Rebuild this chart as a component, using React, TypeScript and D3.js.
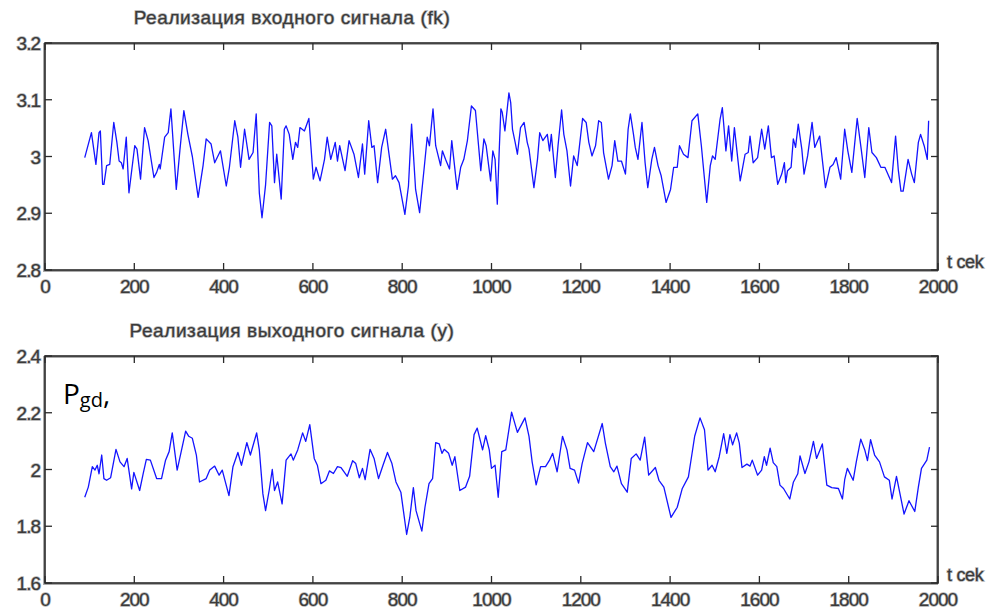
import React from "react";
import * as d3 from "d3";

// ---- data ----
const inT = [89,104,114,121,124,129,132,138,145,154,161,166,171,175,182,188,201,206,214,223,231,244,250,256,258,268,276,282,294,302,311,320,330,343,354,361,372,380,393,406,413,425,432,438,447,457,466,473,480,486,494,503,508,514,519,529,536,540,547,555,561,566,571,581,591,601,607,616,626,632,640,650,655,660,672,681,692,702,711,716,725,732,737,745,754,763,778,785,793,806,814,821,830,839,849,856,861,869,875,886,890,897,906,911,923,931,938,946,955,964,976,983,988,998,1003,1008,1013,1017,1021,1024,1030,1039,1043,1047,1053,1058,1065,1073,1080,1084,1095,1103,1108,1115,1125,1130,1134,1143,1149,1157,1162,1169,1177,1184,1192,1204,1212,1218,1225,1233,1240,1246,1251,1262,1270,1276,1283,1291,1300,1306,1311,1318,1322,1328,1337,1344,1350,1359,1365,1373,1380,1391,1401,1408,1416,1421,1430,1440,1449,1462,1470,1482,1490,1495,1501,1512,1517,1525,1531,1538,1544,1557,1568,1575,1579,1586,1596,1605,1612,1620,1627,1633,1641,1650,1656,1659,1663,1671,1676,1681,1687,1695,1700,1708,1718,1724,1735,1748,1758,1765,1772,1782,1791,1798,1807,1819,1828,1836,1845,1852,1862,1872,1881,1896,1905,1911,1917,1922,1933,1941,1947,1956,1961,1969,1976,1979];
const inV = [2.998,3.042,2.986,3.042,3.045,2.951,2.951,2.984,2.986,3.060,3.025,2.992,2.989,2.978,3.034,2.936,3.019,3.013,2.960,3.051,3.028,2.963,2.972,2.986,2.978,3.034,3.042,3.084,2.942,3.010,3.081,3.039,3.000,2.928,2.984,3.031,3.022,2.989,3.010,2.948,2.981,3.063,3.034,2.981,3.048,2.995,3.007,3.075,2.936,2.892,2.950,3.060,3.054,2.954,3.004,2.925,3.048,3.054,3.039,2.995,3.025,3.016,3.051,3.045,3.067,2.960,2.981,2.957,2.995,3.034,2.995,3.025,2.992,3.019,2.975,3.028,3.004,2.963,3.022,2.969,3.063,3.016,3.019,2.954,3.016,3.048,2.960,2.966,2.954,2.898,2.948,3.057,2.942,2.901,2.978,3.034,3.019,3.084,3.019,2.984,3.010,2.995,2.978,3.028,2.942,2.981,2.995,3.028,3.089,3.081,2.975,3.031,3.019,2.957,3.010,2.995,2.916,3.004,3.084,3.078,3.045,3.112,3.095,3.048,3.025,3.004,3.051,3.060,3.025,3.013,2.945,2.995,3.042,3.028,3.039,3.010,3.039,2.963,3.019,3.082,3.039,3.010,2.948,3.001,2.984,3.067,3.060,3.025,3.001,3.019,3.063,3.060,3.007,2.960,2.984,3.028,2.992,2.992,2.969,3.048,3.075,3.039,3.016,2.995,3.060,2.989,2.945,2.995,3.016,2.984,2.966,2.919,2.942,2.981,2.981,3.019,3.004,2.998,3.063,3.075,3.019,2.919,2.984,3.001,2.995,3.066,3.086,3.010,3.054,2.992,3.051,2.957,3.004,3.007,3.036,2.989,2.998,3.048,3.013,3.054,2.998,3.001,2.951,2.969,2.989,2.954,2.975,2.981,3.031,3.016,3.057,3.013,2.969,3.001,3.060,3.016,3.036,2.945,2.981,2.986,2.998,2.960,3.048,3.010,2.972,3.067,3.013,2.963,3.051,3.007,2.998,2.981,2.981,2.954,3.036,2.977,2.939,2.939,2.995,2.969,2.954,3.025,3.039,3.019,2.995,3.063];

const outT = [89,97,106,112,117,121,127,132,138,147,159,168,177,184,194,199,212,220,227,236,250,261,270,278,285,296,315,322,330,339,346,361,369,380,390,397,412,421,432,440,452,460,474,480,488,494,502,509,514,521,531,540,551,556,566,577,584,593,603,610,618,629,637,646,655,663,677,689,696,704,711,717,728,737,747,757,767,777,786,797,810,817,825,831,844,851,860,868,875,883,889,894,904,912,918,929,942,951,961,968,980,987,995,1000,1008,1015,1023,1032,1045,1058,1075,1084,1091,1100,1110,1121,1130,1137,1147,1159,1169,1176,1186,1195,1203,1215,1229,1248,1255,1266,1274,1281,1291,1304,1313,1324,1333,1343,1352,1367,1375,1386,1402,1416,1427,1441,1448,1455,1467,1477,1485,1494,1501,1510,1520,1527,1534,1540,1549,1555,1561,1572,1579,1584,1596,1605,1611,1616,1624,1631,1639,1646,1654,1668,1676,1686,1691,1702,1711,1721,1728,1741,1751,1762,1777,1786,1791,1797,1810,1817,1827,1836,1842,1849,1858,1869,1880,1891,1897,1907,1924,1935,1948,1956,1963,1975,1981];
const outV = [1.902,1.938,2.010,1.998,2.015,1.985,2.051,1.968,1.962,1.971,2.071,2.027,2.010,2.039,1.932,1.990,1.926,1.986,2.036,2.033,1.968,1.968,2.033,2.063,2.129,1.998,2.135,2.117,2.110,2.051,1.956,1.968,1.998,2.012,1.980,1.998,1.908,2.010,2.060,2.015,2.095,2.051,2.129,2.069,1.914,1.855,1.926,2.000,1.926,1.956,1.879,2.033,2.055,2.033,2.069,2.129,2.099,2.158,2.039,2.015,1.950,1.962,1.995,1.986,2.010,2.007,1.976,2.031,2.021,1.971,2.004,1.964,2.071,2.039,1.968,2.015,2.060,2.021,1.956,1.920,1.771,1.831,1.936,1.855,1.783,1.867,1.950,1.968,2.095,2.090,2.057,2.071,2.057,2.015,2.045,1.926,1.938,1.976,2.123,2.146,2.069,2.119,2.069,2.004,2.015,1.902,2.063,2.069,2.202,2.131,2.182,2.117,2.027,1.946,2.010,2.010,2.033,2.057,1.992,2.117,2.069,2.004,1.998,1.952,2.021,2.095,2.063,2.162,2.093,2.010,1.992,2.012,1.950,1.920,2.039,2.055,2.033,2.114,1.980,2.007,1.962,1.938,1.831,1.867,1.932,1.974,2.045,2.117,2.182,2.140,1.998,2.015,1.992,2.045,2.126,2.057,2.123,2.087,2.129,2.093,2.007,2.019,2.012,2.033,1.980,1.998,2.045,2.015,2.075,2.024,2.010,1.945,1.933,1.896,1.955,1.985,2.048,1.986,2.027,2.099,2.039,2.090,1.945,1.936,1.933,1.896,1.964,2.004,1.962,2.027,2.107,2.069,2.031,2.105,2.051,2.027,1.974,1.962,1.896,1.976,1.843,1.890,1.852,1.938,2.004,2.033,2.079];

const xTicks = [0, 200, 400, 600, 800, 1000, 1200, 1400, 1600, 1800, 2000];
const topYTicks = [2.8, 2.9, 3, 3.1, 3.2];
const botYTicks = [1.6, 1.8, 2, 2.2, 2.4];
const topTitle = "Реализация входного сигнала (fk)";
const botTitle = "Реализация выходного сигнала (y)";
const xUnit = "t cek";

const LEFT = 45;
const RIGHT = 938;
const labelFont = "'Liberation Sans', Arial, sans-serif";

type PanelProps = {
  top: number;
  bottom: number;
  domain: [number, number];
  yTicks: number[];
  ts: number[];
  vs: number[];
  title: string;
  fmt: (v: number) => string;
};

function Panel({ top, bottom, domain, yTicks, ts, vs, title, fmt }: PanelProps) {
  const x = d3.scaleLinear().domain([0, 2000]).range([LEFT, RIGHT]);
  const y = d3.scaleLinear().domain(domain).range([bottom, top]);
  const pts: [number, number][] = ts.map((t, i) => [t, vs[i]]);
  const line = d3
    .line<[number, number]>()
    .x((d) => x(d[0]))
    .y((d) => y(d[1]));
  const tl = 7;
  const textStyle = {
    fill: "#3a3a3a",
    stroke: "#b0b0b0",
    strokeWidth: 1.4,
    paintOrder: "stroke" as const,
    fontFamily: labelFont,
  };
  return (
    <g>
      <text x={292} y={top - 19} textAnchor="middle" fontSize={19} letterSpacing={0.6} style={textStyle}>
        {title}
      </text>
      <path d={line(pts) || ""} fill="none" stroke="#1414ff" strokeWidth={1.3} strokeLinejoin="round" />
      {/* frame with shadow */}
      <rect x={LEFT - 1} y={top + 1} width={RIGHT - LEFT} height={bottom - top} fill="none" stroke="#aaa" strokeWidth={2} />
      <rect x={LEFT} y={top} width={RIGHT - LEFT} height={bottom - top} fill="none" stroke="#2a2a2a" strokeWidth={1.6} />
      {xTicks.map((t) => (
        <g key={"x" + t}>
          <line x1={x(t)} x2={x(t)} y1={bottom} y2={bottom - tl} stroke="#2a2a2a" strokeWidth={1.3} />
          <line x1={x(t)} x2={x(t)} y1={top} y2={top + tl} stroke="#2a2a2a" strokeWidth={1.3} />
          <text x={x(t)} y={bottom + 23} textAnchor="middle" fontSize={19} letterSpacing={-1} style={textStyle}>
            {t}
          </text>
        </g>
      ))}
      {yTicks.map((v) => (
        <g key={"y" + v}>
          <line x1={LEFT} x2={LEFT + tl} y1={y(v)} y2={y(v)} stroke="#2a2a2a" strokeWidth={1.3} />
          <line x1={RIGHT} x2={RIGHT - tl} y1={y(v)} y2={y(v)} stroke="#2a2a2a" strokeWidth={1.3} />
          <text x={40} y={y(v) + 7} textAnchor="end" fontSize={19} letterSpacing={-1} style={textStyle}>
            {fmt(v)}
          </text>
        </g>
      ))}
      <text x={947} y={bottom - 2} fontSize={18} letterSpacing={-0.3} style={textStyle}>
        {xUnit}
      </text>
    </g>
  );
}

export default function App() {
  const fmt = (v: number) => String(+v.toFixed(1));
  return (
    <div style={{ position: "absolute", left: 0, top: 0, width: 1001, height: 610, background: "#fff" }}>
      <svg width={1001} height={610} style={{ display: "block" }}>
        <rect width={1001} height={610} fill="#fff" />
        <Panel top={43} bottom={270} domain={[2.8, 3.2]} yTicks={topYTicks} ts={inT} vs={inV} title={topTitle} fmt={fmt} />
        <Panel top={356} bottom={583} domain={[1.6, 2.4]} yTicks={botYTicks} ts={outT} vs={outV} title={botTitle} fmt={fmt} />
        <text x={63} y={404} fontFamily="'Open Sans', 'Noto Sans', sans-serif" fontSize={28} fill="#000">
          P
          <tspan fontSize={20} dy={3}>gd</tspan>
          <tspan fontSize={28} dy={-3}>,</tspan>
        </text>
      </svg>
    </div>
  );
}
